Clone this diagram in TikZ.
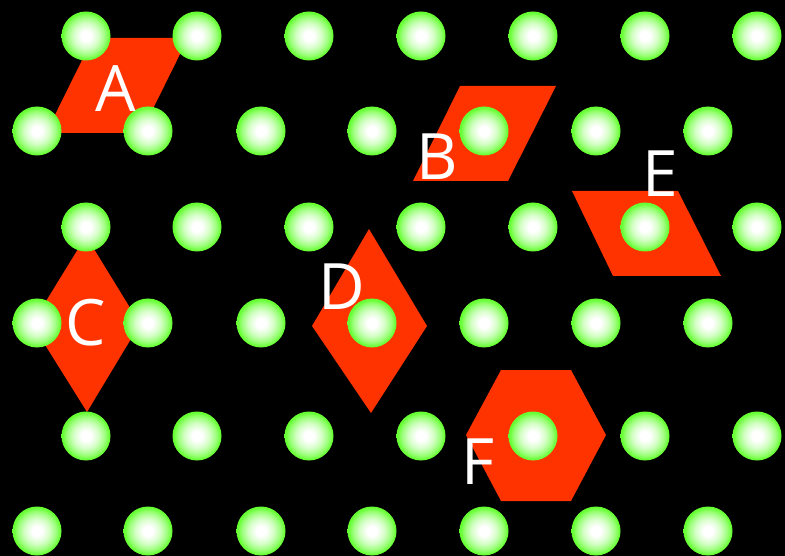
\documentclass[tikz,border=0pt]{standalone}
\usepackage{fontspec}
\setmainfont{Open Sans}
\definecolor{ballgreen}{RGB}{102,255,51}
\definecolor{shapered}{RGB}{255,51,0}
\colorlet{ballmidA}{ballgreen!28!white}
\colorlet{ballmidB}{ballgreen!65!white}
\pgfdeclareradialshading{ballshade}{\pgfpoint{0bp}{0bp}}{color(0bp)=(white); color(5bp)=(white); color(13bp)=(ballmidA); color(19.5bp)=(ballmidB); color(24bp)=(ballgreen); color(50bp)=(ballgreen)}
\tikzset{
  cell/.style={fill=shapered, draw=none},
  ball/.style={shading=ballshade, draw=none},
  letter/.style={text=white, font=\fontsize{64}{64}\selectfont, inner sep=0pt, anchor=base}
}
\begin{document}
\begin{tikzpicture}[x=1pt,y=-1pt]
\fill[black] (0,0) rectangle (785,556);
\useasboundingbox (0,0) rectangle (785,556);
% shapes
\fill[cell] (93,38) -- (188,38) -- (141,133) -- (46,133) -- cycle;
\fill[cell] (460,86) -- (556,86) -- (508,181) -- (413,181) -- cycle;
\fill[cell] (572,191) -- (678,191) -- (721,276) -- (613,276) -- cycle;
\fill[cell] (86,236) -- (140,324) -- (87,412) -- (32,324) -- cycle;
\fill[cell] (369,229) -- (427,326) -- (371,413) -- (312,326) -- cycle;
\fill[cell] (466,435) -- (501,370) -- (571,370) -- (606,435) -- (571,501) -- (501,501) -- cycle;
% balls
\foreach \y in {36,227,436} {
  \foreach \x in {86,197,309,421,533,645,757} {
    \shade[ball] (\x,\y) circle (24.5);
  }
}
\foreach \y in {131,323,531} {
  \foreach \x in {37,148,261,372,484,596,708} {
    \shade[ball] (\x,\y) circle (24.5);
  }
}
% letters
\node[letter] (lA) at (116,112) {A};
\node[letter] (lB) at (437,180) {B};
\node[letter] (lC) at (86,345) {C};
\node[letter] (lD) at (342,309) {D};
\node[letter] (lE) at (660,197) {E};
\node[letter] (lF) at (478,484) {F};
\end{tikzpicture}
\end{document}
